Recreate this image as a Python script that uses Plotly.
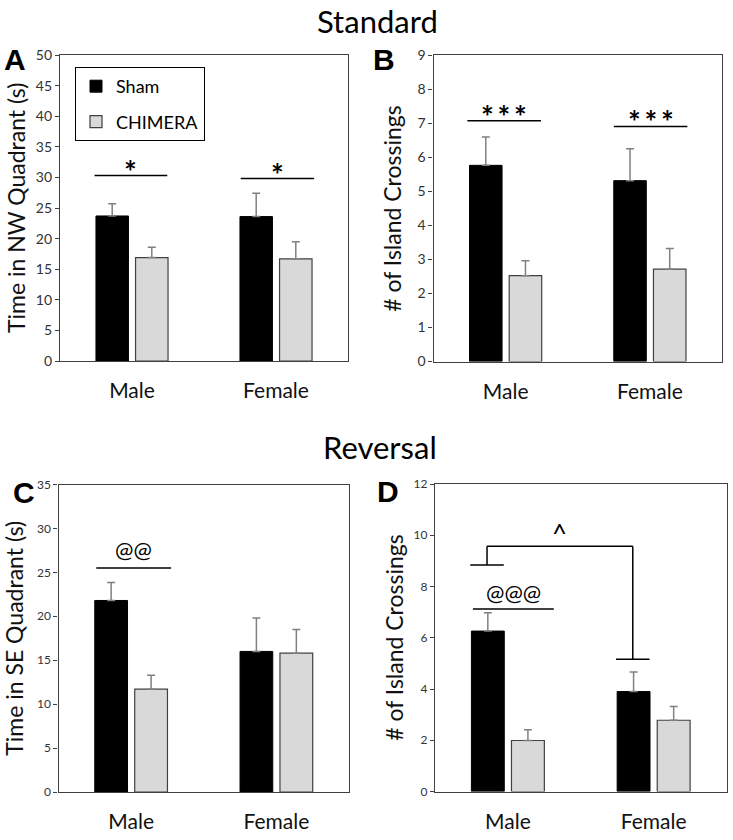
import plotly.graph_objects as go

# ---------------- data ----------------
categories = ["Male", "Female"]
cat_pos = [0, 1]
group_names = ["Sham", "CHIMERA"]

# Panel A: Standard - Time in NW Quadrant (s)
a_sham = [23.7, 23.6]
a_sham_err = [2.0, 3.8]
a_chim = [16.9, 16.7]
a_chim_err = [1.7, 2.8]

# Panel B: Standard - # of Island Crossings
b_sham = [5.76, 5.31]
b_sham_err = [0.83, 0.94]
b_chim = [2.52, 2.71]
b_chim_err = [0.44, 0.61]

# Panel C: Reversal - Time in SE Quadrant (s)
c_sham = [21.8, 16.0]
c_sham_err = [2.05, 3.8]
c_chim = [11.7, 15.8]
c_chim_err = [1.6, 2.7]

# Panel D: Reversal - # of Island Crossings
d_sham = [6.26, 3.90]
d_sham_err = [0.72, 0.76]
d_chim = [1.99, 2.78]
d_chim_err = [0.42, 0.54]

y_ranges = {"A": [0, 50], "B": [0, 9], "C": [0, 35], "D": [0, 12]}
y_dticks = {"A": 5, "B": 1, "C": 5, "D": 2}
y_titles = {"A": "Time in NW Quadrant (s)", "B": "# of Island Crossings",
            "C": "Time in SE Quadrant (s)", "D": "# of Island Crossings"}

# significance markers: (panel, category index, x offset start, x offset end, line y, label, label y)
sig_marks = [
    ("A", 0, -0.26, 0.245, 30.3, "*", 32.4),
    ("A", 1, -0.245, 0.265, 29.8, "*", 31.8),
    ("B", 0, -0.265, 0.245, 7.07, "*\u2009*\u2009*", 7.45),
    ("B", 1, -0.25, 0.26, 6.90, "*\u2009*\u2009*", 7.30),
    ("C", 0, -0.24, 0.275, 25.5, "@@", 27.6),
    ("D", 0, -0.24, 0.315, 7.12, "@@@", 7.75),
]
# sex-difference bracket in panel D (Sham Male vs Sham Female)
d_bracket_left_y = 8.84
d_bracket_top_y = 9.57
d_bracket_right_y = 5.16
d_bracket_label = "^"
d_bracket_label_y = 10.1

# ---------------- layout geometry ----------------
W, H = 733, 840
FONT = "Lato, 'Open Sans', sans-serif"
SHAM_COLOR = "#000000"
CHIM_COLOR = "#d9d9d9"
AXIS_COLOR = "#404040"
ERR_COLOR = "#808080"

panels = {
    "A": dict(x=(60, 348), y=(55, 361), sham=a_sham, se=a_sham_err, chim=a_chim, ce=a_chim_err, tick=14),
    "B": dict(x=(433.5, 722), y=(55, 361.5), sham=b_sham, se=b_sham_err, chim=b_chim, ce=b_chim_err, tick=14),
    "C": dict(x=(58.5, 349), y=(484.5, 792), sham=c_sham, se=c_sham_err, chim=c_chim, ce=c_chim_err, tick=12),
    "D": dict(x=(435, 726.5), y=(484, 791.5), sham=d_sham, se=d_sham_err, chim=d_chim, ce=d_chim_err, tick=12),
}
axis_ids = {"A": ("x", "y"), "B": ("x2", "y2"), "C": ("x3", "y3"), "D": ("x4", "y4")}

fig = go.Figure()
layout_axes = {}
annotations = []
shapes = []

for key, p in panels.items():
    xa, ya = axis_ids[key]
    show = key == "A"
    fig.add_trace(go.Bar(
        x=cat_pos, y=p["sham"], name=group_names[0], xaxis=xa, yaxis=ya,
        marker=dict(color=SHAM_COLOR, line=dict(color="#000000", width=1)),
        error_y=dict(type="data", symmetric=False, array=p["se"], arrayminus=[0, 0],
                     color=ERR_COLOR, thickness=1.5, width=4),
        showlegend=show, legendgroup="sham", hoverinfo="skip"))
    fig.add_trace(go.Bar(
        x=cat_pos, y=p["chim"], name=group_names[1], xaxis=xa, yaxis=ya,
        marker=dict(color=CHIM_COLOR, line=dict(color=AXIS_COLOR, width=1.2)),
        error_y=dict(type="data", symmetric=False, array=p["ce"], arrayminus=[0, 0],
                     color=ERR_COLOR, thickness=1.5, width=4),
        showlegend=show, legendgroup="chim", hoverinfo="skip"))

    xn = "xaxis" if xa == "x" else "xaxis" + xa[1:]
    yn = "yaxis" if ya == "y" else "yaxis" + ya[1:]
    layout_axes[xn] = dict(
        domain=[p["x"][0] / W, p["x"][1] / W], anchor=ya, range=[-0.5, 1.5],
        tickmode="array", tickvals=cat_pos, ticktext=categories, automargin=False,
        showline=True, linecolor=AXIS_COLOR, linewidth=1.2, mirror=True,
        showgrid=False, zeroline=False, ticks="", ticklabelstandoff=11,
        tickfont=dict(family=FONT, size=21, color="#111111"), fixedrange=True)
    layout_axes[yn] = dict(
        domain=[1 - p["y"][1] / H, 1 - p["y"][0] / H], anchor=xa, automargin=False,
        range=y_ranges[key], dtick=y_dticks[key], tick0=0,
        showline=True, linecolor=AXIS_COLOR, linewidth=1.2, mirror=True,
        showgrid=False, zeroline=False, ticks="outside", ticklen=4, tickcolor=AXIS_COLOR,
        tickfont=dict(family=FONT, size=p["tick"], color="#333333"), fixedrange=True)

    # y axis title as rotated annotation
    yc = (p["y"][0] + p["y"][1]) / 2
    xt = p["x"][0] - 44 if key in ("A", "C") else p["x"][0] - 41
    annotations.append(dict(
        text=y_titles[key], xref="paper", yref="paper", x=xt / W, y=1 - yc / H,
        xanchor="center", yanchor="middle", textangle=-90, showarrow=False,
        font=dict(family=FONT, size=23, color="#111111")))

# significance lines and labels
for key, ci, o0, o1, ly, lab, ty in sig_marks:
    xa, ya = axis_ids[key]
    c = cat_pos[ci]
    shapes.append(dict(type="line", xref=xa, yref=ya, x0=c + o0, x1=c + o1, y0=ly, y1=ly,
                       line=dict(color="#000000", width=1.5)))
    is_star = "*" in lab
    annotations.append(dict(
        text=lab, xref=xa, yref=ya, x=c + (o0 + o1) / 2, y=ty, showarrow=False,
        xanchor="center", yanchor="middle", yshift=-8 if is_star else 0,
        font=dict(family=FONT, size=30 if is_star else 22, color="#000000",
                  weight="bold" if is_star else "normal")))

# bracket in D between Sham Male and Sham Female
xa, ya = axis_ids["D"]
sham_off = -0.143
bar_half = 0.115
xl = cat_pos[0] + sham_off
xr = cat_pos[1] + sham_off
for seg in [
    (xl - bar_half, d_bracket_left_y, xl + bar_half, d_bracket_left_y),
    (xl, d_bracket_left_y, xl, d_bracket_top_y),
    (xl, d_bracket_top_y, xr, d_bracket_top_y),
    (xr, d_bracket_top_y, xr, d_bracket_right_y),
    (xr - bar_half, d_bracket_right_y, xr + bar_half, d_bracket_right_y),
]:
    shapes.append(dict(type="line", xref=xa, yref=ya, x0=seg[0], y0=seg[1], x1=seg[2], y1=seg[3],
                       line=dict(color="#000000", width=1.5)))
annotations.append(dict(text=d_bracket_label, xref=xa, yref=ya, x=(xl + xr) / 2, y=d_bracket_label_y,
                        showarrow=False, xanchor="center", yanchor="middle",
                        font=dict(family=FONT, size=26, color="#000000")))

# section titles
annotations.append(dict(text="Standard", xref="paper", yref="paper", x=377 / W, y=1.0,
                        xanchor="center", yanchor="top", showarrow=False,
                        font=dict(family=FONT, size=31, color="#000000")))
annotations.append(dict(text="Reversal", xref="paper", yref="paper", x=380 / W, y=1 - 447 / H,
                        xanchor="center", yanchor="middle", showarrow=False,
                        font=dict(family=FONT, size=31, color="#000000")))

# panel letters
for txt, cx, cy in [("A", 15, 60), ("B", 384, 60), ("C", 24, 492), ("D", 388, 491)]:
    annotations.append(dict(text=txt, xref="paper", yref="paper", x=cx / W, y=1 - cy / H,
                            xanchor="center", yanchor="middle", showarrow=False,
                            font=dict(family="Liberation Sans, Arial, sans-serif", size=30,
                                      color="#000000", weight="bold")))

fig.update_layout(
    template="none",
    width=W, height=H, margin=dict(l=0, r=0, t=0, b=0, autoexpand=False),
    paper_bgcolor="white", plot_bgcolor="white",
    barmode="group", bargap=0.45, bargroupgap=0.18,
    font=dict(family=FONT, color="#000000"),
    showlegend=True,
    legend=dict(x=75 / W, y=1 - 67 / H, xanchor="left", yanchor="top",
                bordercolor="#000000", borderwidth=1, bgcolor="white",
                font=dict(family=FONT, size=18, color="#000000"),
                tracegroupgap=9, traceorder="grouped", itemclick=False, itemdoubleclick=False),
    annotations=annotations, shapes=shapes,
    **layout_axes,
)

fig.write_html("out.html", config={"displayModeBar": False, "staticPlot": False},
               post_script="document.body.style.margin='0';document.body.style.overflow='hidden';")
